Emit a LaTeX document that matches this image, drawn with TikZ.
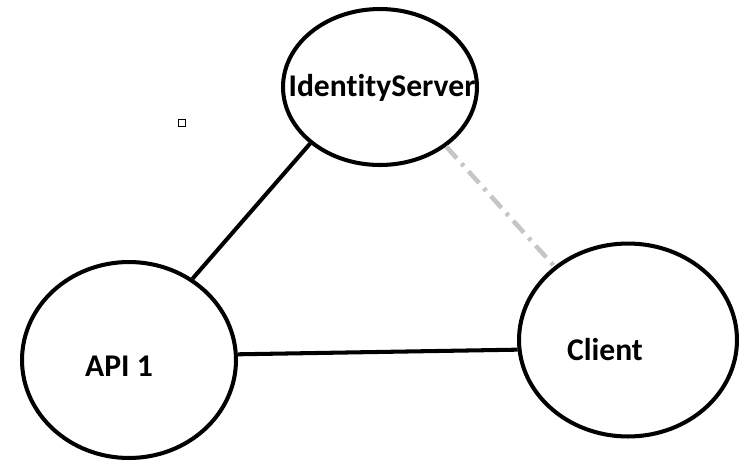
\documentclass[tikz,border=0pt]{standalone}
\usepackage{fontspec}
\setmainfont{Carlito}[Ligatures=NoCommon]
\usetikzlibrary{shapes.geometric}

\begin{document}
\begin{tikzpicture}[x=0.02cm,y=-0.02cm,font=\bfseries\fontsize{18}{21}\selectfont,
  party/.style={draw=black,line width=2.3pt,ellipse,inner sep=0pt},
  link/.style={black,line width=2.3pt},
  trust/.style={gray!45,line width=2.6pt,dash pattern=on 9pt off 4pt on 2pt off 4pt}]
\useasboundingbox (0,0) rectangle (751,474);
\node[party,minimum width=3.88cm,minimum height=3.12cm] (ids) at (380,87) {};
\node[party,minimum width=4.28cm,minimum height=3.92cm] (api) at (129,360) {};
\node[party,minimum width=4.36cm,minimum height=3.86cm] (client) at (628,340) {};
\node (idslabel) at (382,88) {IdentityServer};
\node (apilabel) at (119,366) {API 1};
\node (clientlabel) at (605,350) {Client};
% connections
\draw[link] (ids.219) -- (api.52);
\draw[link] (api.3) -- (client.185);
\draw[trust] (ids.318) -- (client.135);
% stray marker
\draw[line width=0.9pt] (178.5,119.5) rectangle (185.5,126.5);
\end{tikzpicture}
\end{document}
